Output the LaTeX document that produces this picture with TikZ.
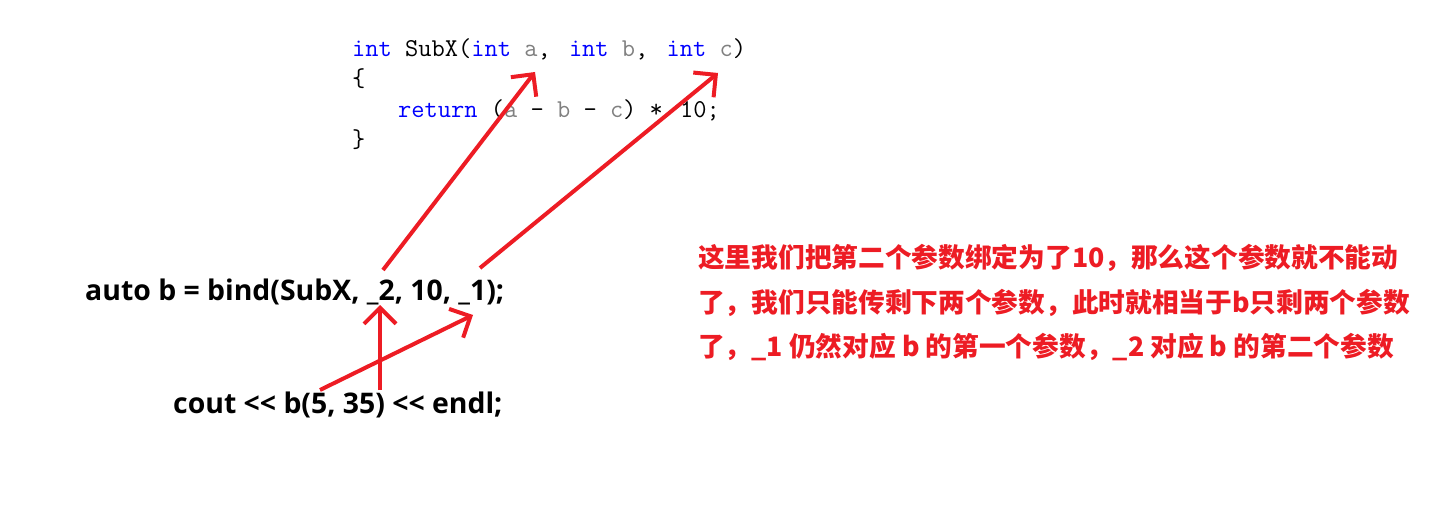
\documentclass[tikz,border=0pt]{standalone}
\usepackage{fontspec}
\usepackage{xcolor}
\usepackage{tikz}
\usetikzlibrary{arrows.meta}
\newfontfamily\cjk{Noto Sans CJK SC}
\newfontfamily\callfont{Open Sans}
\definecolor{codeblue}{RGB}{0,0,255}
\definecolor{codegray}{RGB}{128,128,128}
\definecolor{notered}{RGB}{237,28,36}

\begin{document}
\begin{tikzpicture}[x=1bp,y=-1bp,
    code/.style={anchor=base west,inner sep=0pt,font=\ttfamily\fontsize{25.8}{26}\selectfont},
    call/.style={anchor=base west,inner sep=0pt,font=\callfont\bfseries\fontsize{28.5}{30}\selectfont},
    note/.style={anchor=base west,inner sep=0pt,text=notered,font=\cjk\bfseries\fontsize{26.8}{28}\selectfont},
    link/.style={notered,line width=4bp,-{Straight Barb[length=16bp,width=32bp]}}]
    \useasboundingbox (0,0) rectangle (1451,511);

    % the function
    \node[code] (sig) at (352,57) {\textcolor{codeblue}{int} SubX(\textcolor{codeblue}{int} \textcolor{codegray}{a},\hspace{5bp} \textcolor{codeblue}{int} \textcolor{codegray}{b},\hspace{5bp} \textcolor{codeblue}{int} \textcolor{codegray}{c})};
    \node[code] (open) at (352,87) {\{};
    \node[code] (ret) at (398,118) {\textcolor{codeblue}{return} (\textcolor{codegray}{a} - \textcolor{codegray}{b} - \textcolor{codegray}{c}) *\hspace{4bp} 10;};
    \node[code] (close) at (352,148) {\}};

    % bind and call
    \node[call] (bind) at (85,300) {auto b = bind(SubX, \_2, 10, \_1);};
    \node[call] (cout) at (173,413) {cout << b(5, 35) << endl;};

    % explanation
    \node[note] (line1) at (698,268) {这里我们把第二个参数绑定为了10，那么这个参数就不能动};
    \node[note] (line2) at (698,312) {了，我们只能传剩下两个参数，此时就相当于b只剩两个参数};
    \node[note] (line3) at (698,356) {了，\_1 仍然对应 b 的第一个参数，\_2 对应 b 的第二个参数};

    % arrow ends
    \coordinate (pa) at (535,72);
    \coordinate (pc) at (718,73);
    \coordinate (ptwo) at (383,270);
    \coordinate (pone) at (480,268);
    \coordinate (qtwo) at (380,305);
    \coordinate (qone) at (473,315);
    \coordinate (five) at (320,390);
    \coordinate (thirtyfive) at (380,390);

    \draw[link] (ptwo) -- (pa);
    \draw[link] (pone) -- (pc);
    \draw[link] (thirtyfive) -- (qtwo);
    \draw[link] (five) -- (qone);
\end{tikzpicture}
\end{document}
